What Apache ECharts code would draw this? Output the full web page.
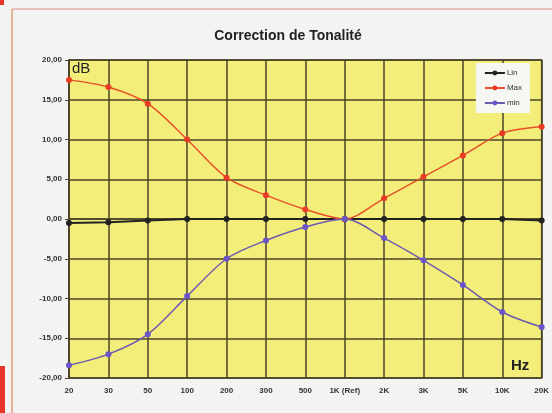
<!DOCTYPE html>
<html>
<head>
<meta charset="utf-8">
<script src="https://cdn.jsdelivr.net/npm/echarts@6/dist/echarts.min.js"></script>
<style>
  html, body { margin: 0; padding: 0; background: #f3f3f1; }
  #chart { width: 552px; height: 413px; }
</style>
</head>
<body>
<div id="chart"></div>
<script>
// Frequency bands (Hz)
const frequencies = ['20', '30', '50', '100', '200', '300', '500', '1K (Ref)', '2K', '3K', '5K', '10K', '20K'];
// Response in dB for each tone-control position
const linValues = [-0.5, -0.4, -0.2, 0, 0, 0, 0, 0, 0, 0, 0, 0, -0.2];
const maxValues = [17.5, 16.6, 14.5, 10.0, 5.2, 3.0, 1.2, 0, 2.6, 5.3, 8.0, 10.8, 11.6];
const minValues = [-18.4, -17.0, -14.5, -9.7, -5.0, -2.7, -1.0, 0, -2.4, -5.2, -8.3, -11.7, -13.6];
const yTicks = { min: -20, max: 20, step: 5 };

const chart = echarts.init(document.getElementById('chart'));
const gridColor = '#4a4328';

chart.setOption({
  animation: false,
  backgroundColor: '#f3f3f1',
  title: {
    text: 'Correction de Tonalité',
    left: 283, top: 24, textAlign: 'center',
    textStyle: { fontFamily: 'Liberation Sans, Arial', fontSize: 14, fontWeight: 'bold', color: '#222' }
  },
  legend: {
    orient: 'vertical',
    right: 22, top: 63,
    backgroundColor: '#f6f6f2',
    padding: [6, 8, 6, 8],
    itemGap: 7,
    itemWidth: 20, itemHeight: 6,
    textStyle: { fontFamily: 'Liberation Sans, Arial', fontSize: 8, color: '#333', padding: [0, 0, 0, -3] },
    data: ['Lin', 'Max', 'min']
  },
  grid: { left: 69, right: 10, top: 60, bottom: 35, show: true, backgroundColor: '#f3ee7a', borderColor: gridColor, borderWidth: 1.5 },
  xAxis: {
    type: 'category',
    data: frequencies,
    boundaryGap: false,
    axisLine: { show: true, lineStyle: { color: gridColor, width: 1.5 } },
    axisTick: { show: true, length: 4, lineStyle: { color: gridColor } },
    axisLabel: { fontFamily: 'Liberation Sans, Arial', fontSize: 8, fontWeight: 'bold', color: '#333', margin: 9, interval: 0 },
    splitLine: { show: true, lineStyle: { color: gridColor, width: 1.5 } }
  },
  yAxis: {
    type: 'value',
    min: yTicks.min, max: yTicks.max, interval: yTicks.step,
    axisLine: { show: true, lineStyle: { color: gridColor, width: 1.5 } },
    axisTick: { show: true, length: 4, lineStyle: { color: gridColor } },
    axisLabel: {
      fontFamily: 'Liberation Sans, Arial', fontSize: 8, fontWeight: 'bold', color: '#333', margin: 7,
      formatter: v => v.toFixed(2).replace('.', ',')
    },
    splitLine: { show: true, lineStyle: { color: gridColor, width: 1.5 } }
  },
  series: [
    {
      name: 'Lin', type: 'line', data: linValues,
      color: '#222222',
      symbol: 'circle', symbolSize: 6,
      lineStyle: { width: 2, color: '#222222' },
      z: 3
    },
    {
      name: 'Max', type: 'line', data: maxValues,
      color: '#e83a25', smooth: 0.3,
      symbol: 'circle', symbolSize: 6,
      lineStyle: { width: 1.5, color: '#e8502a' },
      z: 4
    },
    {
      name: 'min', type: 'line', data: minValues,
      color: '#6a55c8', smooth: 0.3,
      symbol: 'circle', symbolSize: 6,
      lineStyle: { width: 1.5, color: '#6e5ab0' },
      z: 4
    }
  ],
  graphic: [
    { type: 'line', shape: { x1: 12, y1: 9, x2: 552, y2: 9 }, style: { stroke: '#de8f80', lineWidth: 1.2 }, silent: true },
    { type: 'line', shape: { x1: 12, y1: 9, x2: 12, y2: 413 }, style: { stroke: '#d98a60', lineWidth: 1.2 }, silent: true },
    { type: 'rect', shape: { x: 0, y: 366, width: 5, height: 47 }, style: { fill: '#e8332a' }, silent: true },
    { type: 'rect', shape: { x: 0, y: 0, width: 4, height: 5 }, style: { fill: '#e8332a' }, silent: true },
    { type: 'text', left: 72, top: 61, style: { text: 'dB', fontFamily: 'Liberation Sans, Arial', fontSize: 15, fill: '#222' }, z: 10 },
    { type: 'text', left: 511, top: 358, style: { text: 'Hz', fontFamily: 'Liberation Sans, Arial', fontSize: 15, fontWeight: 'bold', fill: '#222' }, z: 10 }
  ]
});
</script>
</body>
</html>
